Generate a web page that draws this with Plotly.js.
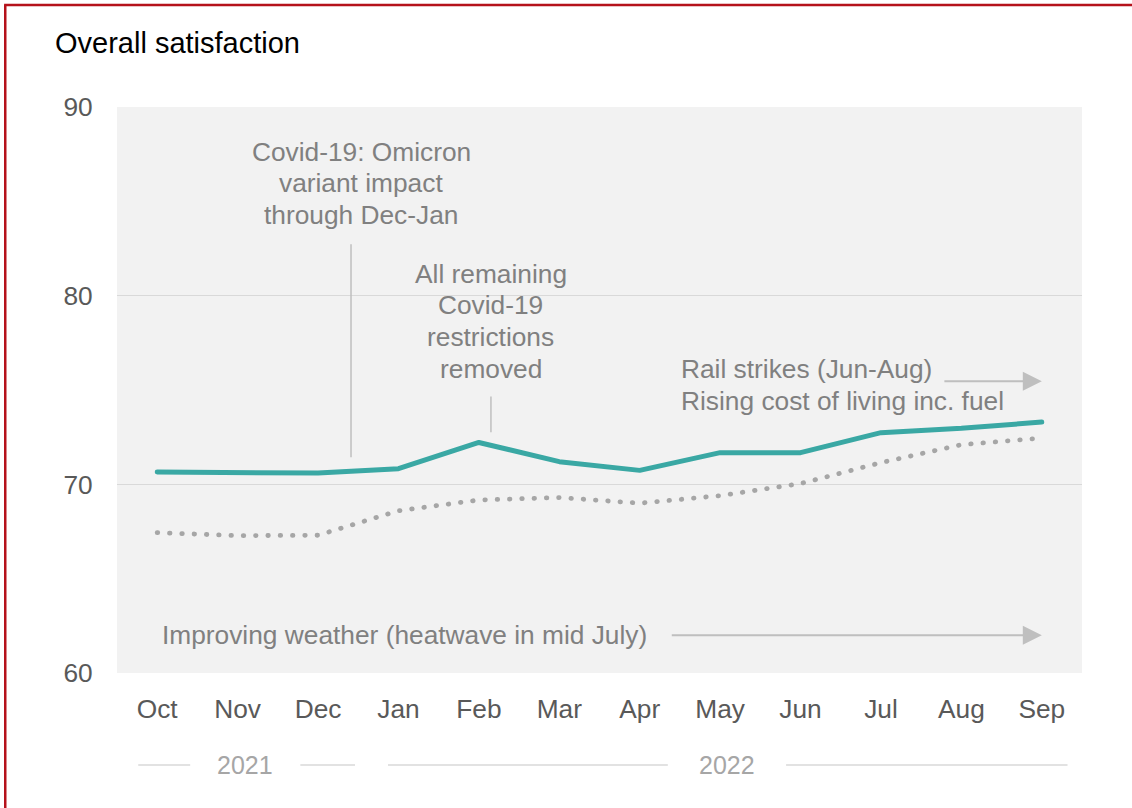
<!DOCTYPE html>
<html>
<head>
<meta charset="utf-8">
<script src="https://cdn.plot.ly/plotly-3.0.1.min.js"></script>
<style>
html,body{margin:0;padding:0;background:#fff;}
#chart{width:1132px;height:808px;}
.scatterlayer path.js-line{stroke-linecap:round !important;stroke-linejoin:round !important;}
</style>
</head>
<body>
<div id="chart"></div>
<script>
const months = ["Oct","Nov","Dec","Jan","Feb","Mar","Apr","May","Jun","Jul","Aug","Sep"];
const satisfaction = [70.65, 70.6, 70.6, 70.83, 72.22, 71.2, 70.74, 71.68, 71.68, 72.74, 72.97, 73.3];
const comparison = [67.44, 67.28, 67.3, 68.6, 69.17, 69.3, 69.0, 69.4, 70.04, 71.15, 72.1, 72.45];
const yTicks = [60, 70, 80, 90];
const years = ["2021", "2022"];
const omicronNote = ["Covid-19: Omicron", "variant impact", "through Dec-Jan"];
const covidNote = ["All remaining", "Covid-19", "restrictions", "removed"];
const railNote = ["Rail strikes (Jun-Aug)", "Rising cost of living inc. fuel"];
const weatherNote = "Improving weather (heatwave in mid July)";
const chartTitle = "Overall satisfaction";

const FONT = "Liberation Sans, Arial, sans-serif";
const NOTE = "#808080";
const LINEC = "#bfbfbf";

const traces = [
  {x: months, y: comparison, type: "scatter", mode: "lines",
   line: {color: "#a6a6a6", width: 4.8, dash: "0.5px,11.8px"}, hoverinfo: "skip"},
  {x: months, y: satisfaction, type: "scatter", mode: "lines",
   line: {color: "#3aa8a4", width: 5}, hoverinfo: "skip"}
];

const annotations = [];
const lh = 1.68; // line spacing in data units (~31.7px)
omicronNote.forEach((t, i) => annotations.push({xref: "x", yref: "y", x: 2.54, y: 85.95 + lh - i * lh, text: t, showarrow: false,
  xanchor: "center", yanchor: "middle", font: {family: FONT, size: 26.3, color: NOTE}}));
covidNote.forEach((t, i) => annotations.push({xref: "x", yref: "y", x: 4.15, y: 78.64 + 1.5 * lh - i * lh, text: t, showarrow: false,
  xanchor: "center", yanchor: "middle", font: {family: FONT, size: 26.3, color: NOTE}}));
railNote.forEach((t, i) => annotations.push({xref: "x", yref: "y", x: 6.49, y: 76.09 - i * lh, text: t, showarrow: false,
  xanchor: "left", yanchor: "middle", font: {family: FONT, size: 26.3, color: NOTE}}));
annotations.push({xref: "x", yref: "y", x: 0.03, y: 62.0, text: weatherNote, showarrow: false,
  xanchor: "left", yanchor: "middle", font: {family: FONT, size: 26.3, color: NOTE}});
// arrows
annotations.push({xref: "x", yref: "y", axref: "x", ayref: "y", x: 11, y: 75.46, ax: 9.77, ay: 75.46, text: "",
  showarrow: true, arrowhead: 2, arrowsize: 1.9, arrowwidth: 2, arrowcolor: LINEC});
annotations.push({xref: "x", yref: "y", axref: "x", ayref: "y", x: 11, y: 62.0, ax: 6.38, ay: 62.0, text: "",
  showarrow: true, arrowhead: 2, arrowsize: 1.9, arrowwidth: 2, arrowcolor: LINEC});
// years
annotations.push({xref: "x", yref: "paper", x: 1.09, y: -0.1625, text: years[0], showarrow: false,
  xanchor: "center", yanchor: "middle", font: {family: FONT, size: 25, color: "#a6a6a6"}});
annotations.push({xref: "x", yref: "paper", x: 7.09, y: -0.1625, text: years[1], showarrow: false,
  xanchor: "center", yanchor: "middle", font: {family: FONT, size: 25, color: "#a6a6a6"}});

const yrY = -0.1625;
const shapes = [
  {type: "line", xref: "x", yref: "y", x0: 2.41, x1: 2.41, y0: 82.72, y1: 71.43, line: {color: LINEC, width: 1.5}},
  {type: "line", xref: "x", yref: "y", x0: 4.15, x1: 4.15, y0: 74.66, y1: 72.76, line: {color: LINEC, width: 1.5}},
  {type: "line", xref: "x", yref: "paper", x0: -0.236, x1: 0.41, y0: yrY, y1: yrY, line: {color: "#d9d9d9", width: 1.3}},
  {type: "line", xref: "x", yref: "paper", x0: 1.78, x1: 2.46, y0: yrY, y1: yrY, line: {color: "#d9d9d9", width: 1.3}},
  {type: "line", xref: "x", yref: "paper", x0: 2.87, x1: 6.35, y0: yrY, y1: yrY, line: {color: "#d9d9d9", width: 1.3}},
  {type: "line", xref: "x", yref: "paper", x0: 7.82, x1: 11.32, y0: yrY, y1: yrY, line: {color: "#d9d9d9", width: 1.3}},
  // red frame
  {type: "line", xref: "paper", yref: "paper", x0: -0.1158, x1: -0.1158, y0: 1.1802, y1: -0.26, line: {color: "#b5121b", width: 2.5}},
  {type: "line", xref: "paper", yref: "paper", x0: -0.117, x1: 1.07, y0: 1.1802, y1: 1.1802, line: {color: "#b5121b", width: 2.5}}
];

const layout = {
  width: 1132, height: 808,
  margin: {l: 117, r: 50, t: 107, b: 135},
  paper_bgcolor: "#ffffff",
  plot_bgcolor: "#f2f2f2",
  showlegend: false,
  title: {text: chartTitle, xref: "container", yref: "container", x: 55/1132, xanchor: "left",
    y: 1 - 43/808, yanchor: "middle", font: {family: FONT, size: 29, color: "#000000"}},
  xaxis: {type: "category", range: [-0.5, 11.5], showgrid: false, zeroline: false, showline: false,
    ticks: "outside", ticklen: 12, tickcolor: "rgba(0,0,0,0)",
    tickfont: {family: FONT, size: 26.3, color: "#595959"}, fixedrange: true},
  yaxis: {range: [60, 90], tickvals: yTicks, showgrid: true, gridcolor: "#d9d9d9", gridwidth: 1.5,
    zeroline: false, showline: false, ticks: "outside", ticklen: 18, tickcolor: "rgba(0,0,0,0)",
    tickfont: {family: FONT, size: 26.3, color: "#595959"}, fixedrange: true},
  annotations: annotations,
  shapes: shapes
};

Plotly.newPlot("chart", traces, layout, {displayModeBar: false, staticPlot: true});
</script>
</body>
</html>
